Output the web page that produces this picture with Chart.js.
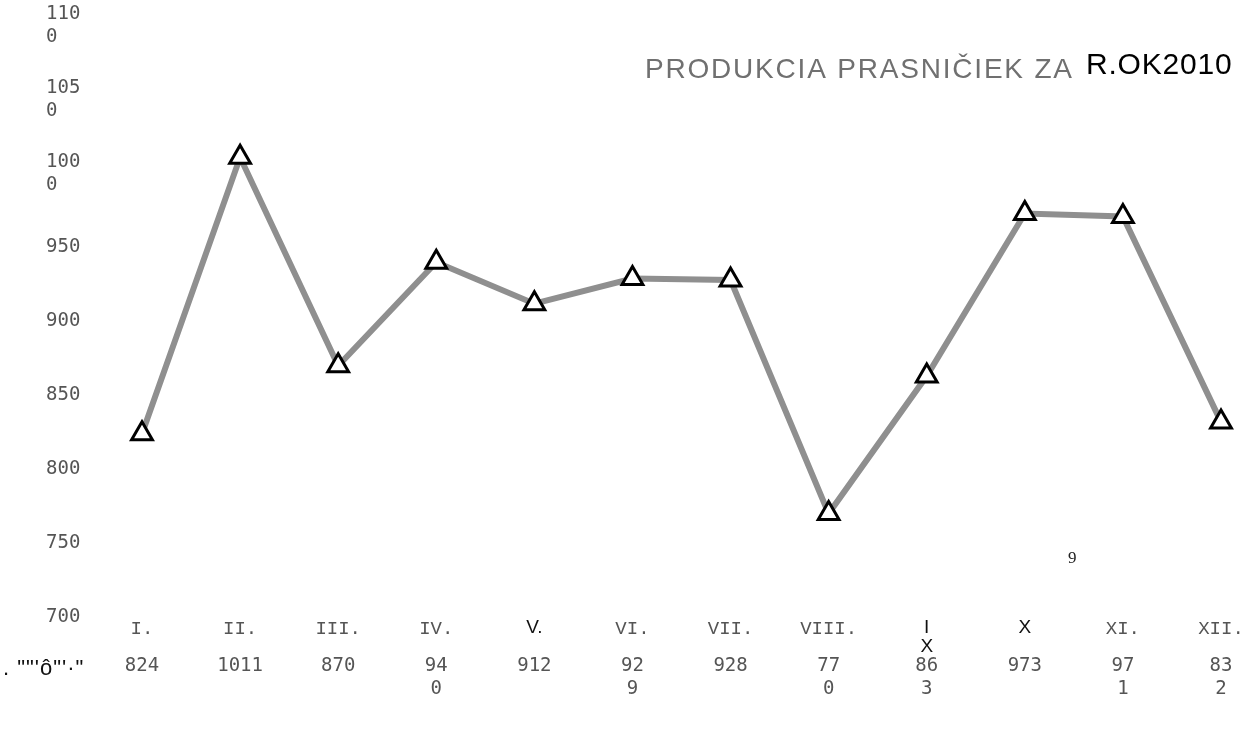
<!DOCTYPE html>
<html>
<head>
<meta charset="utf-8">
<script src="https://cdn.jsdelivr.net/npm/chart.js@4"></script>
<style>
  body { margin: 0; background: #fff; }
  .chartBox { position: relative; width: 1247px; height: 742px; }
</style>
</head>
<body>
<div class="chartBox"><canvas class="jsProductionChart"></canvas></div>
<script>
'use strict';

// data
const months = ['I.', 'II.', 'III.', 'IV.', 'V.', 'VI.', 'VII.', 'VIII.', 'IX', 'X', 'XI.', 'XII.'];
const production = [824, 1011, 870, 940, 912, 929, 928, 770, 863, 973, 971, 832];
const yMin = 700, yMax = 1100, yStep = 50;
const titleGrey = 'PRODUKCIA PRASNIČIEK ZA';
const titleBlack = 'R.OK2010';
const rowLabel = '. ""\'ô"\'·"';

// the scan wraps some numbers onto two lines, and some labels use another font
const wrappedValues = [3, 5, 7, 8, 10, 11];
const sansMonths = [4, 8, 9];

const monoFont = {family: '"DejaVu Sans Mono", monospace', size: 19, lineHeight: 1.2};

const extraText = {
  id: 'extraText',
  afterDraw(chart) {
    let ctx = chart.ctx;
    ctx.save();
    ctx.textBaseline = 'alphabetic';
    ctx.textAlign = 'left';

    ctx.font = '28px "Liberation Sans", Arial, sans-serif';
    ctx.letterSpacing = '1.8px';
    ctx.fillStyle = '#707070';
    ctx.fillText(titleGrey, 645, 78);

    ctx.letterSpacing = '0.8px';
    ctx.font = '30px "Liberation Sans", Arial, sans-serif';
    ctx.fillStyle = '#000';
    ctx.fillText(titleBlack, 1086, 74);

    ctx.letterSpacing = '1px';
    ctx.font = '22px "Liberation Sans", Arial, sans-serif';
    ctx.fillStyle = '#111';
    ctx.fillText(rowLabel, 3, 675);

    ctx.letterSpacing = '0px';
    ctx.font = '17px "Liberation Serif", serif';
    ctx.fillStyle = '#222';
    ctx.fillText('9', 1068, 563);
    ctx.restore();
  }
};

function buildProductionChart() {
  let ctx = document.querySelector('.jsProductionChart');

  new Chart(ctx, {
    type: 'line',
    data: {
      labels: months,
      datasets: [{
        data: production,
        borderColor: '#8f8f8f',
        borderWidth: 6,
        tension: 0,
        pointStyle: 'triangle',
        pointRadius: 12,
        pointBorderWidth: 3,
        pointBorderColor: '#000',
        pointBackgroundColor: '#fff',
        clip: false
      }]
    },
    options: {
      responsive: true,
      maintainAspectRatio: false,
      animation: false,
      layout: {padding: {top: 17, left: 46, right: 26, bottom: 8}},
      plugins: {
        legend: {display: false},
        tooltip: {enabled: false}
      },
      scales: {
        y: {
          min: yMin,
          max: yMax,
          grid: {display: false},
          border: {display: false},
          afterFit: (scale) => { scale.width = 96; },
          ticks: {
            stepSize: yStep,
            crossAlign: 'far',
            color: '#555',
            font: monoFont,
            callback: (value) => {
              let s = String(value);
              return s.length > 3 ? [s.slice(0, 3), s.slice(3)] : s;
            }
          }
        },
        x: {
          weight: 0,
          offset: false,
          grid: {display: false, drawTicks: false},
          border: {display: false},
          afterFit: (scale) => { scale.height = 37; },
          ticks: {
            padding: 1,
            maxRotation: 0,
            autoSkip: false,
            color: (c) => sansMonths.includes(c.index) ? '#111' : '#555',
            font: (c) => sansMonths.includes(c.index)
              ? {family: '"Liberation Sans", Arial, sans-serif', size: 19, lineHeight: 1.0}
              : {family: '"Liberation Mono", monospace', size: 19, lineHeight: 1.2},
            callback: (value, i) => months[i] === 'IX' ? ['I', 'X'] : months[i]
          }
        },
        x2: {
          type: 'category',
          position: 'bottom',
          weight: 1,
          offset: false,
          labels: production.map(String),
          grid: {display: false, drawTicks: false},
          border: {display: false},
          afterFit: (scale) => { scale.height = 80; },
          ticks: {
            padding: 1,
            maxRotation: 0,
            autoSkip: false,
            color: '#555',
            font: monoFont,
            callback: (value, i) => {
              let s = String(production[i]);
              return wrappedValues.includes(i) ? [s.slice(0, 2), s.slice(2)] : s;
            }
          }
        }
      }
    },
    plugins: [extraText]
  });
}

buildProductionChart();
</script>
</body>
</html>
